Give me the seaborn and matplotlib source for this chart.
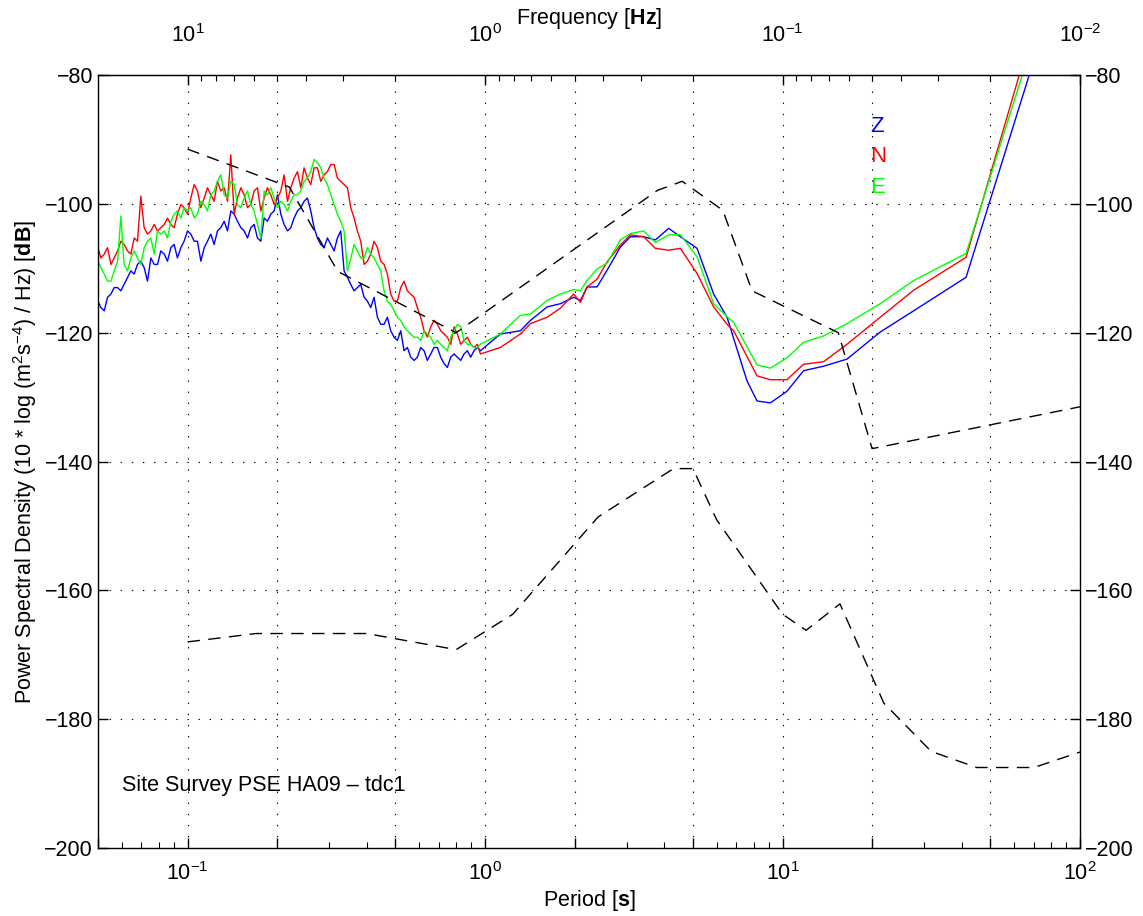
import numpy as np
import pandas as pd
import matplotlib
matplotlib.use('Agg')
import matplotlib.pyplot as plt
import matplotlib.ticker as mticker
import seaborn as sns

# noisy short-period part, first period grid (s)
period_noisy = [0.0500, 0.0525, 0.0553, 0.0582, 0.0612, 0.0645, 0.0679, 0.0715, 0.0753, 0.0793,
                0.0835, 0.0879, 0.0925, 0.0974, 0.1026, 0.108, 0.1138, 0.1198, 0.1261, 0.1328,
                0.1398, 0.1472, 0.155, 0.1632, 0.1718, 0.1809, 0.1905, 0.2006, 0.2112, 0.2224,
                0.2342, 0.2465, 0.2596, 0.2733, 0.2878, 0.303, 0.319, 0.336, 0.3537, 0.3724,
                0.3922, 0.4129, 0.4348, 0.4578, 0.482, 0.5076, 0.5344, 0.5627, 0.5925, 0.6239,
                0.6569, 0.6917, 0.7283, 0.7668, 0.8074, 0.8502, 0.8952, 0.9424]
z_noisy = [-115.1, -116.6, -114.0, -113.0, -112.5, -110.4, -109.4, -109.9, -108.4, -109.4,
           -107.8, -106.8, -108.4, -105.8, -104.7, -105.8, -106.8, -104.7, -104.2, -102.7,
           -101.1, -102.7, -104.2, -103.7, -105.3, -102.2, -101.6, -98.6, -103.2, -103.7,
           -101.1, -99.6, -101.1, -105.3, -106.8, -106.3, -105.3, -110.4, -112.5, -113.0,
           -114.5, -116.1, -117.6, -118.7, -119.7, -121.2, -122.8, -123.8, -123.8, -122.8,
           -123.3, -122.3, -124.8, -123.8, -123.8, -123.3, -123.8, -122.3]
n_noisy = [-106.8, -107.8, -109.4, -107.3, -106.3, -107.8, -105.8, -103.7, -104.2, -104.2,
           -103.2, -103.2, -101.6, -100.6, -99.1, -98.0, -99.1, -98.6, -96.5, -97.5,
           -92.4, -99.1, -98.6, -100.1, -97.5, -99.1, -98.6, -99.1, -95.5, -97.5,
           -95.0, -94.4, -97.0, -94.4, -95.5, -93.9, -96.0, -97.0, -100.6, -104.2,
           -109.4, -107.8, -106.8, -109.4, -114.0, -115.1, -112.0, -114.0, -116.1, -119.7,
           -119.1, -118.7, -120.2, -121.8, -120.2, -121.2, -121.8, -121.8]
e_noisy = [-108.9, -110.9, -112.0, -108.9, -109.4, -108.4, -108.4, -106.8, -105.3, -104.2,
           -104.2, -102.7, -101.1, -100.6, -100.6, -101.6, -100.1, -98.6, -96.5, -98.6,
           -96.5, -100.1, -99.1, -100.1, -103.2, -98.0, -97.5, -100.6, -100.1, -99.6,
           -98.6, -96.5, -95.0, -93.6, -96.0, -98.6, -101.6, -104.2, -108.5, -107.3,
           -108.4, -107.8, -109.4, -113.5, -115.6, -117.6, -119.1, -120.2, -120.7, -119.7,
           -120.7, -121.2, -122.3, -120.7, -118.7, -121.2, -121.8, -122.3]

# noisy part, in-between periods (s)
period_mid = [0.05114, 0.05385, 0.0567, 0.0597, 0.06285, 0.06618, 0.06968, 0.07337, 0.07727, 0.08133,
              0.08564, 0.09017, 0.09497, 0.1, 0.1053, 0.1109, 0.1167, 0.1229, 0.1294, 0.1363,
              0.1435, 0.1511, 0.1591, 0.1675, 0.1764, 0.1857, 0.1955, 0.2059, 0.2168, 0.2282,
              0.2403, 0.253, 0.2664, 0.2805, 0.2953, 0.311, 0.3274, 0.3448, 0.363, 0.3822,
              0.4024, 0.4237, 0.4462, 0.4697, 0.4946, 0.5208, 0.5484, 0.5774, 0.6079, 0.6401,
              0.674, 0.7096, 0.7472, 0.7868, 0.8284, 0.8723, 0.9185]
z_mid = [-116.1, -114.5, -113.0, -113.5, -111.4, -110.9, -108.9, -112.0, -109.4, -107.3,
         -108.9, -106.3, -106.8, -104.2, -105.8, -108.9, -105.8, -106.3, -103.7, -104.2,
         -101.6, -103.7, -105.3, -103.2, -105.8, -102.7, -101.1, -101.6, -104.2, -102.2,
         -100.6, -99.1, -103.7, -106.3, -105.3, -107.3, -104.2, -111.4, -113.5, -112.5,
         -115.1, -114.5, -118.7, -117.6, -120.7, -119.7, -122.3, -124.3, -122.3, -124.3,
         -122.3, -123.8, -125.4, -123.3, -124.3, -122.8, -122.8]
n_mid = [-108.4, -106.8, -108.4, -105.8, -107.3, -105.3, -98.8, -104.7, -103.2, -103.7,
         -102.2, -103.7, -100.1, -101.6, -97.0, -100.6, -97.5, -99.6, -98.0, -99.6,
         -101.6, -97.5, -100.6, -98.0, -101.1, -97.5, -100.1, -98.0, -99.6, -96.0,
         -97.5, -96.0, -94.4, -96.5, -95.0, -93.9, -96.5, -97.5, -102.2, -105.8,
         -108.9, -105.8, -108.9, -110.9, -115.1, -113.0, -113.5, -114.5, -117.6, -120.7,
         -118.1, -119.7, -120.7, -119.1, -121.8, -120.7, -122.3]
e_mid = [-109.9, -112.0, -110.4, -101.9, -110.4, -107.3, -109.4, -105.8, -107.8, -104.7,
         -105.3, -101.6, -102.2, -101.1, -102.2, -99.6, -101.1, -98.0, -95.5, -99.1,
         -97.0, -100.6, -98.0, -101.1, -105.3, -98.6, -99.1, -99.6, -101.1, -98.6,
         -98.0, -96.0, -93.1, -94.4, -97.0, -100.1, -102.7, -110.4, -106.3, -108.4,
         -106.8, -108.4, -110.4, -115.1, -116.6, -118.1, -119.7, -120.7, -121.2, -120.2,
         -121.8, -121.8, -122.8, -119.7, -119.1, -121.8, -122.3]

# smoother long-period part
period_smooth = [0.965, 1.126, 1.315, 1.421, 1.617, 1.792, 1.987, 2.093, 2.203, 2.38,
                 2.573, 2.851, 3.08, 3.415, 3.737, 4.144, 4.535, 5.161, 5.869, 6.511,
                 6.85, 7.6, 8.21, 9.1, 10.35, 11.77, 13.75, 16.47, 21.3, 27.6, 41.4]
z_smooth = [-122.8, -120.2, -119.7, -118.1, -116.0, -115.5, -114.5, -115.0, -112.9, -112.9,
            -110.3, -106.7, -105.1, -105.1, -105.6, -103.8, -105.1, -106.9, -114.0, -117.6,
            -120.9, -127.5, -130.6, -130.9, -129.1, -125.9, -125.2, -124.1, -119.9, -116.6, -111.4]
n_smooth = [-123.3, -122.3, -120.2, -118.6, -117.6, -116.2, -114.0, -115.3, -112.9, -111.7,
            -109.0, -106.4, -104.8, -105.1, -106.9, -107.2, -106.9, -110.8, -116.0, -118.7,
            -119.7, -123.7, -126.7, -127.3, -127.3, -124.9, -124.5, -121.8, -117.6, -113.4, -108.3]
e_smooth = [-121.8, -120.2, -117.3, -117.1, -115.0, -114.0, -113.3, -113.5, -111.9, -110.1,
            -109.2, -105.6, -104.6, -104.2, -106.0, -104.8, -104.8, -108.2, -115.5, -117.5,
            -118.4, -122.2, -125.0, -125.5, -123.9, -121.5, -120.5, -118.6, -115.5, -111.9, -107.7]

# where each channel leaves the top of the plot
period_exit = {'Z': 67.5, 'N': 62.5, 'E': 64.0}
psd_exit = -80.0

# Peterson high / low noise models
nhnm_period = [0.1, 0.22, 0.32, 0.8, 3.8, 4.6, 6.3, 7.9, 15.4, 20.0, 100.0]
nhnm_db = [-91.5, -97.4, -110.5, -120.0, -97.9, -96.5, -101.0, -113.5, -120.0, -138.0, -131.5]
nlnm_period = [0.1, 0.17, 0.4, 0.8, 1.24, 2.4, 4.3, 5.0, 6.0, 10.0, 12.0, 15.6, 21.9, 31.6,
               45.0, 70.0, 100.0]
nlnm_db = [-168.0, -166.7, -166.7, -169.2, -163.7, -148.6, -141.1, -141.1, -149.0, -163.7,
           -166.2, -162.1, -177.5, -185.0, -187.5, -187.5, -185.1]

# tick positions
period_major = [0.05, 0.1, 0.2, 0.5, 1, 2, 5, 10, 20, 50, 100]
period_minor = [0.06, 0.07, 0.08, 0.09, 0.3, 0.4, 0.6, 0.7, 0.8, 0.9,
                3, 4, 6, 7, 8, 9, 30, 40, 60, 70, 80, 90]
freq_major = [10, 1, 0.1, 0.01]
freq_minor = [2, 3, 4, 5, 6, 7, 8, 9, 0.2, 0.3, 0.4, 0.5, 0.6, 0.7, 0.8, 0.9,
              0.02, 0.03, 0.04, 0.05, 0.06, 0.07, 0.08, 0.09]

channels = {'Z': (z_noisy, z_mid, z_smooth),
            'N': (n_noisy, n_mid, n_smooth),
            'E': (e_noisy, e_mid, e_smooth)}
colors = {'Z': '#0000ff', 'N': '#ff0000', 'E': '#00ff00'}

frames = []
for ch, (noisy, mid, smooth) in channels.items():
    p = period_noisy + period_mid + period_smooth + [period_exit[ch]]
    v = noisy + mid + smooth + [psd_exit]
    frames.append(pd.DataFrame({'period': p, 'psd': v, 'channel': ch}))
df = pd.concat(frames, ignore_index=True)

sns.set_style('ticks', rc={'axes.edgecolor': 'black', 'xtick.color': 'black',
                           'ytick.color': 'black', 'text.color': 'black',
                           'axes.labelcolor': 'black'})
plt.rcParams['font.family'] = ['Liberation Sans', 'DejaVu Sans']
plt.rcParams['mathtext.fontset'] = 'custom'
plt.rcParams['mathtext.rm'] = 'Liberation Sans'
plt.rcParams['mathtext.it'] = 'Liberation Sans:italic'
plt.rcParams['mathtext.bf'] = 'Liberation Sans:bold'
plt.rcParams['font.size'] = 15.5
plt.rcParams['lines.scale_dashes'] = False

FS = 15.5

fig = plt.figure(figsize=(11.43, 9.16), dpi=100)
ax = fig.add_axes([0.0857, 0.0742, 0.8592, 0.8439])

sns.lineplot(data=df, x='period', y='psd', hue='channel', hue_order=['Z', 'N', 'E'],
             palette=colors, estimator=None, sort=True, legend=False, lw=1.0, ax=ax)
sns.lineplot(x=nhnm_period, y=nhnm_db, color='black', lw=1.0, linestyle=(0, (9, 6)),
             estimator=None, sort=False, ax=ax)
sns.lineplot(x=nlnm_period, y=nlnm_db, color='black', lw=1.0, linestyle=(0, (9, 6)),
             estimator=None, sort=False, ax=ax)

ax.set_xscale('log')
ax.set_xlim(0.05, 100)
ax.set_ylim(-200, -80)


def dec_fmt(v, pos):
    e = np.log10(v)
    if abs(e - round(e)) < 1e-6:
        return '$10^{%d}$' % int(round(e))
    return ''


ax.xaxis.set_major_locator(mticker.FixedLocator(period_major))
ax.xaxis.set_minor_locator(mticker.FixedLocator(period_minor))
ax.xaxis.set_major_formatter(mticker.FuncFormatter(dec_fmt))
ax.xaxis.set_minor_formatter(mticker.NullFormatter())
ax.yaxis.set_major_locator(mticker.MultipleLocator(20))
ax.tick_params(axis='both', which='major', direction='in', length=7, width=1.0, labelsize=FS)
ax.tick_params(axis='x', which='major', pad=10)
ax.tick_params(axis='x', which='minor', direction='in', length=4, width=0.8)
ax.tick_params(axis='y', which='both', left=True, right=True, labelleft=True, labelright=True)
ax.tick_params(axis='x', which='both', top=False)
for s in ax.spines.values():
    s.set_linewidth(1.0)
    s.set_color('black')

ax.grid(True, which='major', color='black', linestyle=(0, (1, 7)), linewidth=0.8)


def inv(x):
    x = np.asarray(x, dtype=float)
    with np.errstate(divide='ignore'):
        return 1.0 / x


secax = ax.secondary_xaxis('top', functions=(inv, inv))
secax.xaxis.set_major_locator(mticker.FixedLocator(freq_major))
secax.xaxis.set_minor_locator(mticker.FixedLocator(freq_minor))
secax.xaxis.set_major_formatter(mticker.FuncFormatter(dec_fmt))
secax.xaxis.set_minor_formatter(mticker.NullFormatter())
secax.tick_params(which='major', direction='in', length=7, width=1.0, labelsize=FS, pad=20)
secax.tick_params(which='minor', direction='in', length=4, width=0.8)
secax.set_xlabel('Frequency [$\\mathbf{Hz}$]', fontsize=FS, labelpad=0)

ax.set_xlabel('Period [$\\mathbf{s}$]', fontsize=FS, labelpad=2)
ax.set_ylabel('Power Spectral Density (10 * log (m$^2$s$^{-4}$) / Hz) [$\\mathbf{dB}$]',
              fontsize=FS, labelpad=4)

for i, ch in enumerate(['Z', 'N', 'E']):
    ax.text(0.786, 0.933 - i * 0.039, ch, color=colors[ch], fontsize=16,
            family=['Liberation Sans', 'DejaVu Sans'],
            transform=ax.transAxes, ha='left', va='center')

ax.text(0.0244, 0.0815, 'Site Survey PSE HA09 \u2013 tdc1', fontsize=FS,
        transform=ax.transAxes, ha='left', va='center')

fig.savefig('out.png', dpi=100)
